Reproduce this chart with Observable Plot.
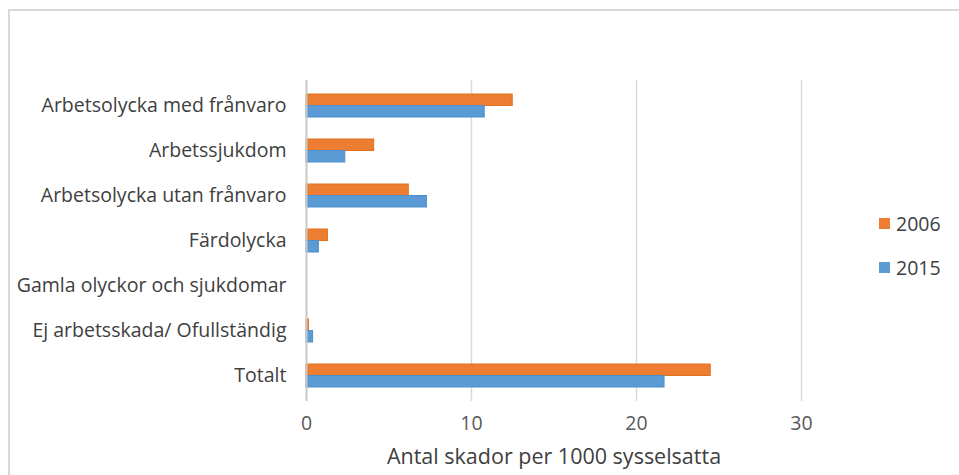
<!DOCTYPE html>
<html>
<head>
<meta charset="utf-8">
<script src="https://cdn.jsdelivr.net/npm/d3@7"></script>
<script src="https://cdn.jsdelivr.net/npm/@observablehq/plot@0.6"></script>
<style>
  html, body { margin: 0; padding: 0; background: #fff; }
  #wrap { position: relative; width: 959px; height: 475px; overflow: hidden; font-family: "Open Sans", sans-serif; }
  #frame { position: absolute; left: 8px; top: 9px; width: 960px; height: 480px; border-left: 2px solid #d9d9d9; border-top: 2px solid #d9d9d9; pointer-events: none; }
  #chart { position: absolute; left: 0; top: 0; }
  .legend { position: absolute; left: 879px; font-size: 19.5px; color: #404040; display: flex; align-items: center; }
  .legend span.sw { display: inline-block; width: 11px; height: 11px; margin-right: 6px; }
</style>
</head>
<body>
<div id="wrap">
  <div id="chart"></div>
  <div id="frame"></div>
  <div class="legend" style="top:210px"><span class="sw" style="background:#ED7D31"></span>2006</div>
  <div class="legend" style="top:254px"><span class="sw" style="background:#5B9BD5"></span>2015</div>
</div>
<script>
const categories = [
  "Arbetsolycka med frånvaro",
  "Arbetssjukdom",
  "Arbetsolycka utan frånvaro",
  "Färdolycka",
  "Gamla olyckor och sjukdomar",
  "Ej arbetsskada/ Ofullständig",
  "Totalt"
];
const values2006 = [12.5, 4.1, 6.2, 1.3, 0, 0.15, 24.5];
const values2015 = [10.8, 2.35, 7.3, 0.75, 0, 0.4, 21.7];
const xTicks = [0, 10, 20, 30];
const xLabel = "Antal skador per 1000 sysselsatta";

const d2006 = categories.map((c, i) => ({category: c, value: values2006[i]}));
const d2015 = categories.map((c, i) => ({category: c, value: values2015[i]}));

const halfBar = 11.5;

const chart = Plot.plot({
  width: 959,
  height: 475,
  marginLeft: 306,
  marginRight: 158,
  marginTop: 80,
  marginBottom: 74,
  style: {fontFamily: "Open Sans, sans-serif", fontSize: "16px", color: "#595959", background: "transparent"},
  x: {domain: [0, 30], ticks: xTicks, label: null},
  y: {domain: categories, paddingInner: 0.5, paddingOuter: 0.25, label: null},
  marks: [
    Plot.ruleX(xTicks.filter(d => d !== 0), {stroke: "#d9d9d9", strokeWidth: 1.5}),
    Plot.barX(d2006, {x: "value", y: "category", fill: "#ED7D31", stroke: "#E0731F", strokeWidth: 1, insetBottom: halfBar}),
    Plot.barX(d2015, {x: "value", y: "category", fill: "#5B9BD5", stroke: "#4E8FCB", strokeWidth: 1, insetTop: halfBar}),
    Plot.ruleX([0], {stroke: "#c8c8c8", strokeWidth: 2}),
    Plot.axisY({tickSize: 0, tickPadding: 20, fontSize: 19.5, fill: "#404040"}),
    Plot.axisX({ticks: xTicks, tickSize: 0, tickPadding: 15, fontSize: 19.5, fill: "#595959", label: null}),
    Plot.text([xLabel], {frameAnchor: "bottom", dy: 62, fontSize: 21.5, fill: "#404040"})
  ]
});
document.getElementById("chart").appendChild(chart);
</script>
</body>
</html>
